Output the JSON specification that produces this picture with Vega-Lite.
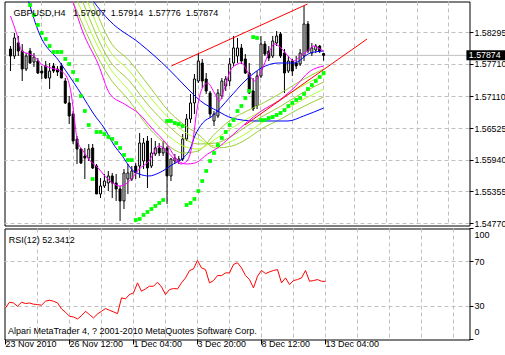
{
"$schema": "https://vega.github.io/schema/vega-lite/v6.json",
"background": "#ffffff",
"padding": {"left": 2.5, "top": 0.5, "right": 0, "bottom": 0},
"spacing": 3,
"bounds": "flush",
"vconcat": [
{
"width": 465, "height": 224,
"layer": [
{"data": {"values": [{"p": 1.57874}]},
 "mark": {"type": "rule", "color": "#c0c0c0", "strokeWidth": 1},
 "encoding": {"y": {"field": "p", "type": "quantitative", "scale": {"domain": [1.54737, 1.58867], "nice": false, "zero": false}}}},
{"data": {"values": [
{"i":0,"o":1.57991,"h":1.58046,"l":1.57585,"c":1.57862},
{"i":1,"o":1.57862,"h":1.58286,"l":1.57807,"c":1.58194},
{"i":2,"o":1.58102,"h":1.58231,"l":1.57862,"c":1.57954},
{"i":3,"o":1.57954,"h":1.58083,"l":1.57401,"c":1.57622},
{"i":4,"o":1.57622,"h":1.57917,"l":1.57585,"c":1.57862},
{"i":5,"o":1.57954,"h":1.58010,"l":1.57715,"c":1.57733},
{"i":6,"o":1.57751,"h":1.57917,"l":1.57659,"c":1.57844},
{"i":7,"o":1.57770,"h":1.57825,"l":1.57530,"c":1.57549},
{"i":8,"o":1.57585,"h":1.57678,"l":1.57438,"c":1.57549},
{"i":9,"o":1.57678,"h":1.57770,"l":1.57438,"c":1.57456},
{"i":10,"o":1.57456,"h":1.57733,"l":1.57254,"c":1.57585},
{"i":11,"o":1.57678,"h":1.57733,"l":1.57549,"c":1.57585},
{"i":12,"o":1.57622,"h":1.57678,"l":1.57493,"c":1.57567},
{"i":13,"o":1.57678,"h":1.57733,"l":1.57456,"c":1.57456},
{"i":14,"o":1.57401,"h":1.57456,"l":1.56977,"c":1.56996},
{"i":15,"o":1.56996,"h":1.57125,"l":1.56608,"c":1.56756},
{"i":16,"o":1.56793,"h":1.56848,"l":1.56240,"c":1.56295},
{"i":17,"o":1.56332,"h":1.56387,"l":1.55871,"c":1.56147},
{"i":18,"o":1.56147,"h":1.56166,"l":1.55871,"c":1.55889},
{"i":19,"o":1.56018,"h":1.56166,"l":1.55594,"c":1.55981},
{"i":20,"o":1.55981,"h":1.56240,"l":1.55926,"c":1.56147},
{"i":21,"o":1.56166,"h":1.56240,"l":1.55779,"c":1.55797},
{"i":22,"o":1.55834,"h":1.55871,"l":1.55318,"c":1.55318},
{"i":23,"o":1.55318,"h":1.55613,"l":1.55244,"c":1.55465},
{"i":24,"o":1.55465,"h":1.55686,"l":1.55428,"c":1.55557},
{"i":25,"o":1.55521,"h":1.55742,"l":1.55373,"c":1.55650},
{"i":26,"o":1.55650,"h":1.55705,"l":1.55244,"c":1.55521},
{"i":27,"o":1.55521,"h":1.55686,"l":1.55189,"c":1.55410},
{"i":28,"o":1.55410,"h":1.55465,"l":1.54820,"c":1.55189},
{"i":29,"o":1.55189,"h":1.55779,"l":1.55041,"c":1.55705},
{"i":30,"o":1.55594,"h":1.55871,"l":1.55318,"c":1.55705},
{"i":31,"o":1.55594,"h":1.55834,"l":1.55557,"c":1.55742},
{"i":32,"o":1.55834,"h":1.55889,"l":1.55594,"c":1.55705},
{"i":33,"o":1.55834,"h":1.56442,"l":1.55613,"c":1.56258},
{"i":34,"o":1.55926,"h":1.56350,"l":1.55779,"c":1.56258},
{"i":35,"o":1.56295,"h":1.56387,"l":1.55428,"c":1.55797},
{"i":36,"o":1.55834,"h":1.56350,"l":1.55797,"c":1.56074},
{"i":37,"o":1.56055,"h":1.56295,"l":1.56018,"c":1.56166},
{"i":38,"o":1.56166,"h":1.56258,"l":1.56018,"c":1.56074},
{"i":39,"o":1.56074,"h":1.56295,"l":1.56018,"c":1.56166},
{"i":40,"o":1.56166,"h":1.56203,"l":1.55134,"c":1.55650},
{"i":41,"o":1.55650,"h":1.55981,"l":1.55557,"c":1.55963},
{"i":42,"o":1.55926,"h":1.56055,"l":1.55871,"c":1.55981},
{"i":43,"o":1.55926,"h":1.56018,"l":1.55871,"c":1.55963},
{"i":44,"o":1.55963,"h":1.56424,"l":1.55926,"c":1.56332},
{"i":45,"o":1.56332,"h":1.56793,"l":1.56295,"c":1.56701},
{"i":46,"o":1.56701,"h":1.57162,"l":1.56627,"c":1.56996},
{"i":47,"o":1.56996,"h":1.57530,"l":1.56793,"c":1.57438},
{"i":48,"o":1.57401,"h":1.57917,"l":1.57364,"c":1.57770},
{"i":49,"o":1.57733,"h":1.57807,"l":1.57272,"c":1.57401},
{"i":50,"o":1.57438,"h":1.57549,"l":1.57162,"c":1.57217},
{"i":51,"o":1.57180,"h":1.57217,"l":1.56719,"c":1.56793},
{"i":52,"o":1.56664,"h":1.56848,"l":1.56571,"c":1.56793},
{"i":53,"o":1.56756,"h":1.57254,"l":1.56719,"c":1.57180},
{"i":54,"o":1.57125,"h":1.57456,"l":1.57069,"c":1.57401},
{"i":55,"o":1.57309,"h":1.57493,"l":1.57217,"c":1.57438},
{"i":56,"o":1.57401,"h":1.57825,"l":1.57309,"c":1.57715},
{"i":57,"o":1.57733,"h":1.58231,"l":1.57678,"c":1.58010},
{"i":58,"o":1.57862,"h":1.58194,"l":1.57733,"c":1.58010},
{"i":59,"o":1.58010,"h":1.58083,"l":1.57715,"c":1.57770},
{"i":60,"o":1.57807,"h":1.57899,"l":1.57530,"c":1.57549},
{"i":61,"o":1.57549,"h":1.57733,"l":1.57162,"c":1.57180},
{"i":62,"o":1.57217,"h":1.57456,"l":1.56848,"c":1.56885},
{"i":63,"o":1.56940,"h":1.57585,"l":1.56885,"c":1.57493},
{"i":64,"o":1.57493,"h":1.58231,"l":1.57456,"c":1.58083},
{"i":65,"o":1.58083,"h":1.58139,"l":1.57862,"c":1.57899},
{"i":66,"o":1.57954,"h":1.58046,"l":1.57770,"c":1.57825},
{"i":67,"o":1.57862,"h":1.58231,"l":1.57825,"c":1.58139},
{"i":68,"o":1.58102,"h":1.58323,"l":1.58046,"c":1.58231},
{"i":69,"o":1.58268,"h":1.58305,"l":1.57825,"c":1.57862},
{"i":70,"o":1.57917,"h":1.57991,"l":1.57180,"c":1.57549},
{"i":71,"o":1.57585,"h":1.57862,"l":1.57549,"c":1.57770},
{"i":72,"o":1.57770,"h":1.57807,"l":1.57493,"c":1.57585},
{"i":73,"o":1.57733,"h":1.57862,"l":1.57622,"c":1.57678},
{"i":74,"o":1.57715,"h":1.57991,"l":1.57678,"c":1.57917},
{"i":75,"o":1.57862,"h":1.58784,"l":1.57770,"c":1.58452},
{"i":76,"o":1.58452,"h":1.58507,"l":1.57917,"c":1.57954},
{"i":77,"o":1.57917,"h":1.58102,"l":1.57862,"c":1.58010},
{"i":78,"o":1.57973,"h":1.58083,"l":1.57917,"c":1.58046},
{"i":79,"o":1.58046,"h":1.58065,"l":1.57917,"c":1.57954},
{"i":80,"o":1.57907,"h":1.57914,"l":1.57776,"c":1.57874}
]},
 "layer": [
  {"mark": {"type": "rule", "color": "#000000", "strokeWidth": 1},
   "encoding": {
    "x": {"field": "i", "type": "quantitative", "scale": {"domain": [-0.25, 116], "nice": false, "zero": false},
          "axis": {"orient": "bottom", "values": [8,16,24,32,40,48,56,64,72,80,88,96,104,112], "tickCount": 100, "labels": false, "ticks": false, "domain": false, "grid": true, "title": null, "minExtent": 0, "maxExtent": 0}},
    "y": {"field": "l", "type": "quantitative", "scale": {"domain": [1.54737, 1.58867], "nice": false, "zero": false},
          "axis": {"orient": "right", "values": [1.5477, 1.55355, 1.5594, 1.56525, 1.5711, 1.5771, 1.58295], "tickCount": 100, "format": ".5f", "title": null, "tickSize": 4, "labelPadding": 1, "labelFontSize": 8.8, "grid": true, "labelOverlap": false, "labelBound": false}},
    "y2": {"field": "h"}}},
  {"mark": {"type": "bar", "size": 2, "stroke": "#000000", "strokeWidth": 1},
   "encoding": {
    "x": {"field": "i", "type": "quantitative", "scale": {"domain": [-0.25, 116], "nice": false, "zero": false}},
    "y": {"field": "o", "type": "quantitative", "scale": {"domain": [1.54737, 1.58867], "nice": false, "zero": false}},
    "y2": {"field": "c"},
    "fill": {"condition": {"test": "datum.c >= datum.o", "value": "#ffffff"}, "value": "#000000"}}}
 ]},
{"data": {"values": [
{"s":"g1","i":15.9,"p":1.58876},{"s":"g1","i":25.4,"p":1.57456},{"s":"g1","i":30.4,"p":1.57032},{"s":"g1","i":35.4,"p":1.56534},{"s":"g1","i":40.4,"p":1.56203},{"s":"g1","i":44.1,"p":1.56074},{"s":"g1","i":47.9,"p":1.56110},{"s":"g1","i":52.4,"p":1.56442},{"s":"g1","i":56.6,"p":1.56701},{"s":"g1","i":60.4,"p":1.56848},{"s":"g1","i":64.1,"p":1.56977},{"s":"g1","i":69.1,"p":1.57180},{"s":"g1","i":74.1,"p":1.57401},{"s":"g1","i":80,"p":1.57622},
{"s":"g2","i":17.1,"p":1.58876},{"s":"g2","i":25.4,"p":1.57641},{"s":"g2","i":30.4,"p":1.57217},{"s":"g2","i":35.4,"p":1.56756},{"s":"g2","i":40.4,"p":1.56387},{"s":"g2","i":44.1,"p":1.56203},{"s":"g2","i":47.9,"p":1.56147},{"s":"g2","i":52.4,"p":1.56332},{"s":"g2","i":56.6,"p":1.56534},{"s":"g2","i":60.4,"p":1.56701},{"s":"g2","i":64.1,"p":1.56848},{"s":"g2","i":69.1,"p":1.57069},{"s":"g2","i":74.1,"p":1.57291},{"s":"g2","i":80,"p":1.57512},
{"s":"g3","i":18.4,"p":1.58876},{"s":"g3","i":25.4,"p":1.57770},{"s":"g3","i":30.4,"p":1.57401},{"s":"g3","i":35.4,"p":1.56940},{"s":"g3","i":40.4,"p":1.56571},{"s":"g3","i":44.1,"p":1.56350},{"s":"g3","i":47.9,"p":1.56240},{"s":"g3","i":52.4,"p":1.56258},{"s":"g3","i":56.6,"p":1.56387},{"s":"g3","i":60.4,"p":1.56571},{"s":"g3","i":64.1,"p":1.56737},{"s":"g3","i":69.1,"p":1.56940},{"s":"g3","i":74.1,"p":1.57162},{"s":"g3","i":80,"p":1.57383},
{"s":"g4","i":19.6,"p":1.58876},{"s":"g4","i":25.4,"p":1.57954},{"s":"g4","i":30.4,"p":1.57585},{"s":"g4","i":35.4,"p":1.57125},{"s":"g4","i":40.4,"p":1.56719},{"s":"g4","i":44.1,"p":1.56479},{"s":"g4","i":47.9,"p":1.56332},{"s":"g4","i":52.4,"p":1.56203},{"s":"g4","i":56.6,"p":1.56295},{"s":"g4","i":60.4,"p":1.56442},{"s":"g4","i":64.1,"p":1.56627},{"s":"g4","i":69.1,"p":1.56830},{"s":"g4","i":74.1,"p":1.57032},{"s":"g4","i":80,"p":1.57254},
{"s":"g5","i":20.9,"p":1.58876},{"s":"g5","i":25.4,"p":1.58139},{"s":"g5","i":30.4,"p":1.57770},{"s":"g5","i":35.4,"p":1.57309},{"s":"g5","i":40.4,"p":1.56848},{"s":"g5","i":44.1,"p":1.56608},{"s":"g5","i":47.9,"p":1.56424},{"s":"g5","i":52.4,"p":1.56166},{"s":"g5","i":56.6,"p":1.56203},{"s":"g5","i":60.4,"p":1.56332},{"s":"g5","i":64.1,"p":1.56516},{"s":"g5","i":69.1,"p":1.56701},{"s":"g5","i":74.1,"p":1.56903},{"s":"g5","i":80,"p":1.57106},
{"s":"bs","i":21.1,"p":1.58876},{"s":"bs","i":25.4,"p":1.58507},{"s":"bs","i":32.9,"p":1.58102},{"s":"bs","i":40.4,"p":1.57622},{"s":"bs","i":44.6,"p":1.57309},{"s":"bs","i":48.6,"p":1.57032},{"s":"bs","i":52.9,"p":1.56848},{"s":"bs","i":56.6,"p":1.56719},{"s":"bs","i":62.4,"p":1.56664},{"s":"bs","i":70.9,"p":1.56664},{"s":"bs","i":74.9,"p":1.56756},{"s":"bs","i":80,"p":1.56903},
{"s":"bf","i":4.6,"p":1.58876},{"s":"bf","i":7.4,"p":1.58268},{"s":"bf","i":12.4,"p":1.57770},{"s":"bf","i":15.9,"p":1.57401},{"s":"bf","i":18.4,"p":1.57125},{"s":"bf","i":21.1,"p":1.56811},{"s":"bf","i":24.1,"p":1.56516},{"s":"bf","i":26.6,"p":1.56203},{"s":"bf","i":28.4,"p":1.56037},{"s":"bf","i":30.9,"p":1.55779},{"s":"bf","i":32.9,"p":1.55686},{"s":"bf","i":35.4,"p":1.55650},{"s":"bf","i":37.9,"p":1.55705},{"s":"bf","i":41.6,"p":1.55871},{"s":"bf","i":44.1,"p":1.55981},{"s":"bf","i":45.9,"p":1.56147},{"s":"bf","i":47.1,"p":1.56387},{"s":"bf","i":49.1,"p":1.56627},{"s":"bf","i":51.6,"p":1.56756},{"s":"bf","i":55.9,"p":1.57088},{"s":"bf","i":59.9,"p":1.57401},{"s":"bf","i":64.1,"p":1.57641},{"s":"bf","i":68.4,"p":1.57733},{"s":"bf","i":72.4,"p":1.57733},{"s":"bf","i":76.6,"p":1.57917},{"s":"bf","i":80,"p":1.57954},
{"s":"ms","i":15.9,"p":1.58876},{"s":"ms","i":18.4,"p":1.58323},{"s":"ms","i":22.4,"p":1.57715},{"s":"ms","i":25.4,"p":1.57162},{"s":"ms","i":29.1,"p":1.56977},{"s":"ms","i":32.9,"p":1.56793},{"s":"ms","i":36.1,"p":1.56534},{"s":"ms","i":39.9,"p":1.56240},{"s":"ms","i":42.9,"p":1.55926},{"s":"ms","i":44.9,"p":1.55871},{"s":"ms","i":47.1,"p":1.55889},{"s":"ms","i":50.4,"p":1.56055},{"s":"ms","i":52.9,"p":1.56166},{"s":"ms","i":55.9,"p":1.56350},{"s":"ms","i":59.9,"p":1.56608},{"s":"ms","i":64.1,"p":1.56848},{"s":"ms","i":68.4,"p":1.57032},{"s":"ms","i":72.4,"p":1.57272},{"s":"ms","i":76.6,"p":1.57585},{"s":"ms","i":80,"p":1.57678},
{"s":"mf","i":0,"p":1.58599},{"s":"mf","i":1.6,"p":1.58268},{"s":"mf","i":2.9,"p":1.57954},{"s":"mf","i":4.1,"p":1.57917},{"s":"mf","i":5.9,"p":1.57862},{"s":"mf","i":7.9,"p":1.57715},{"s":"mf","i":10.4,"p":1.57641},{"s":"mf","i":12.9,"p":1.57585},{"s":"mf","i":14.6,"p":1.57438},{"s":"mf","i":15.6,"p":1.57125},{"s":"mf","i":16.4,"p":1.56664},{"s":"mf","i":17.1,"p":1.56295},{"s":"mf","i":18.6,"p":1.56110},{"s":"mf","i":20.4,"p":1.55926},{"s":"mf","i":22.4,"p":1.55797},{"s":"mf","i":24.1,"p":1.55650},{"s":"mf","i":26.1,"p":1.55521},{"s":"mf","i":27.9,"p":1.55465},{"s":"mf","i":30.4,"p":1.55557},{"s":"mf","i":32.9,"p":1.55779},{"s":"mf","i":35.4,"p":1.55926},{"s":"mf","i":37.9,"p":1.56203},{"s":"mf","i":39.9,"p":1.56110},{"s":"mf","i":41.6,"p":1.55981},{"s":"mf","i":43.6,"p":1.55871},{"s":"mf","i":45.1,"p":1.55926},{"s":"mf","i":46.6,"p":1.56295},{"s":"mf","i":47.6,"p":1.56848},{"s":"mf","i":48.9,"p":1.57254},{"s":"mf","i":50.4,"p":1.57364},{"s":"mf","i":52.1,"p":1.57180},{"s":"mf","i":53.4,"p":1.57032},{"s":"mf","i":54.6,"p":1.57254},{"s":"mf","i":56.6,"p":1.57641},{"s":"mf","i":59.1,"p":1.57733},{"s":"mf","i":60.9,"p":1.57530},{"s":"mf","i":62.4,"p":1.57401},{"s":"mf","i":64.1,"p":1.57585},{"s":"mf","i":65.9,"p":1.57899},{"s":"mf","i":67.4,"p":1.58083},{"s":"mf","i":69.1,"p":1.58010},{"s":"mf","i":70.9,"p":1.57862},{"s":"mf","i":72.4,"p":1.57770},{"s":"mf","i":74.1,"p":1.57862},{"s":"mf","i":75.9,"p":1.57954},{"s":"mf","i":77.4,"p":1.58046},{"s":"mf","i":79.1,"p":1.57991},{"s":"mf","i":80,"p":1.57954}
]},
 "mark": {"type": "line", "strokeWidth": 1, "clip": true, "interpolate": "monotone"},
 "encoding": {
  "x": {"field": "i", "type": "quantitative", "scale": {"domain": [-0.25, 116], "nice": false, "zero": false}},
  "y": {"field": "p", "type": "quantitative", "scale": {"domain": [1.54737, 1.58867], "nice": false, "zero": false}},
  "color": {"field": "s", "type": "nominal", "scale": {"domain": ["g1","g2","g3","g4","g5","bs","bf","ms","mf"], "range": ["#9acd32","#adff2f","#9acd32","#adff2f","#9acd32","#0000ff","#0000ff","#ff00ff","#ff00ff"]}, "legend": null}}},
{"data": {"values": [
{"i":5,"p":1.58802},{"i":6,"p":1.58618},{"i":7,"p":1.58434},{"i":8,"p":1.58286},{"i":9,"p":1.58175},{"i":10,"p":1.58046},{"i":11,"p":1.57936},{"i":12,"p":1.57936},{"i":13,"p":1.57936},{"i":14,"p":1.57807},{"i":15,"p":1.57715},{"i":16,"p":1.57567},{"i":17,"p":1.57420},{"i":18,"p":1.57125},{"i":19,"p":1.56848},{"i":20,"p":1.56590},{"i":21,"p":1.55594},{"i":22,"p":1.56461},{"i":23,"p":1.56461},{"i":24,"p":1.56424},{"i":25,"p":1.56369},{"i":26,"p":1.56332},{"i":27,"p":1.56258},{"i":28,"p":1.56166},{"i":29,"p":1.56037},{"i":30,"p":1.55944},{"i":31,"p":1.55944},{"i":32,"p":1.54838},{"i":33,"p":1.54857},{"i":34,"p":1.54931},{"i":35,"p":1.54986},{"i":36,"p":1.55041},{"i":37,"p":1.55097},{"i":38,"p":1.55152},{"i":39,"p":1.55207},{"i":40,"p":1.56664},{"i":41,"p":1.56664},{"i":42,"p":1.56627},{"i":43,"p":1.56608},{"i":44,"p":1.56571},{"i":45,"p":1.55115},{"i":46,"p":1.55152},{"i":47,"p":1.55226},{"i":48,"p":1.55373},{"i":49,"p":1.55557},{"i":50,"p":1.55742},{"i":51,"p":1.55926},{"i":52,"p":1.56074},{"i":53,"p":1.56221},{"i":54,"p":1.56350},{"i":55,"p":1.56461},{"i":56,"p":1.56590},{"i":57,"p":1.56682},{"i":58,"p":1.56848},{"i":59,"p":1.56940},{"i":60,"p":1.57088},{"i":61,"p":1.57217},{"i":62,"p":1.58212},{"i":63,"p":1.58194},{"i":64,"p":1.56682},{"i":65,"p":1.56682},{"i":66,"p":1.56719},{"i":67,"p":1.56737},{"i":68,"p":1.56774},{"i":69,"p":1.56811},{"i":70,"p":1.56866},{"i":71,"p":1.56940},{"i":72,"p":1.56996},{"i":73,"p":1.57051},{"i":74,"p":1.57088},{"i":75,"p":1.57162},{"i":76,"p":1.57254},{"i":77,"p":1.57327},{"i":78,"p":1.57401},{"i":79,"p":1.57475},{"i":80,"p":1.57549}
]},
 "mark": {"type": "point", "shape": "square", "filled": true, "size": 14, "color": "#00ff00", "opacity": 1},
 "encoding": {
  "x": {"field": "i", "type": "quantitative", "scale": {"domain": [-0.25, 116], "nice": false, "zero": false}},
  "y": {"field": "p", "type": "quantitative", "scale": {"domain": [1.54737, 1.58867], "nice": false, "zero": false}}}},
{"data": {"values": [
{"t":"up","i":41.1,"p":1.57678},{"t":"up","i":75.9,"p":1.58821},
{"t":"lo","i":59.9,"p":1.56590},{"t":"lo","i":91.1,"p":1.58175}
]},
 "mark": {"type": "line", "color": "#ff0000", "strokeWidth": 1, "clip": true},
 "encoding": {
  "x": {"field": "i", "type": "quantitative", "scale": {"domain": [-0.25, 116], "nice": false, "zero": false}},
  "y": {"field": "p", "type": "quantitative", "scale": {"domain": [1.54737, 1.58867], "nice": false, "zero": false}},
  "detail": {"field": "t", "type": "nominal"}}},
{"data": {"values": [{"t": "GBPUSD,H4\u00a0\u00a0\u00a01.57907\u00a0\u00a01.57914\u00a0\u00a01.57776\u00a0\u00a01.57874"}]},
 "mark": {"type": "text", "align": "left", "baseline": "alphabetic", "font": "Liberation Sans", "fontSize": 9, "color": "#000000"},
 "encoding": {
  "x": {"datum": 0.8, "type": "quantitative", "scale": {"domain": [-0.25, 116], "nice": false, "zero": false}},
  "y": {"datum": 1.586, "type": "quantitative", "scale": {"domain": [1.54737, 1.58867], "nice": false, "zero": false}},
  "text": {"field": "t"}}},
{"data": {"values": [{"p": 1.57874, "t": "1.57874"}]},
 "layer": [
  {"mark": {"type": "tick", "orient": "horizontal", "size": 40, "thickness": 10, "color": "#000000", "opacity": 1},
   "encoding": {
    "x": {"datum": 121.6, "type": "quantitative", "scale": {"domain": [-0.25, 116], "nice": false, "zero": false}},
    "y": {"field": "p", "type": "quantitative", "scale": {"domain": [1.54737, 1.58867], "nice": false, "zero": false}}}},
  {"mark": {"type": "text", "align": "left", "baseline": "middle", "font": "Liberation Sans", "fontSize": 8.8, "color": "#ffffff"},
   "encoding": {
    "x": {"datum": 117.1, "type": "quantitative", "scale": {"domain": [-0.25, 116], "nice": false, "zero": false}},
    "y": {"field": "p", "type": "quantitative", "scale": {"domain": [1.54737, 1.58867], "nice": false, "zero": false}},
    "text": {"field": "t"}}}
 ]}
]
},
{
"width": 465, "height": 111,
"layer": [
{"data": {"values": [
{"i":0,"v":28.5},{"i":1,"v":33.6},{"i":2,"v":32.9},{"i":3,"v":29.9},{"i":4,"v":33.6},{"i":5,"v":32.4},{"i":6,"v":32.9},{"i":7,"v":31.8},{"i":8,"v":31.5},{"i":9,"v":30.9},{"i":10,"v":34.5},{"i":11,"v":35.4},{"i":12,"v":34.5},{"i":13,"v":33.0},{"i":14,"v":27.6},{"i":15,"v":24.6},{"i":16,"v":20.9},{"i":17,"v":20.3},{"i":18,"v":18.5},{"i":19,"v":21.5},{"i":20,"v":25.4},{"i":21,"v":22.4},{"i":22,"v":19.4},{"i":23,"v":23.0},{"i":24,"v":25.4},{"i":25,"v":27.9},{"i":26,"v":26.3},{"i":27,"v":24.9},{"i":28,"v":23.3},{"i":29,"v":37.5},{"i":30,"v":36.6},{"i":31,"v":40.5},{"i":32,"v":42.0},{"i":33,"v":51.0},{"i":34,"v":43.5},{"i":35,"v":45.6},{"i":36,"v":48.0},{"i":37,"v":48.0},{"i":38,"v":51.6},{"i":39,"v":47.4},{"i":40,"v":40.5},{"i":41,"v":45.0},{"i":42,"v":45.9},{"i":43,"v":45.6},{"i":44,"v":51.0},{"i":45,"v":55.5},{"i":46,"v":62.1},{"i":47,"v":63.6},{"i":48,"v":71.2},{"i":49,"v":64.5},{"i":50,"v":63.0},{"i":51,"v":51.0},{"i":52,"v":53.1},{"i":53,"v":57.6},{"i":54,"v":57.6},{"i":55,"v":60.0},{"i":56,"v":60.0},{"i":57,"v":67.6},{"i":58,"v":69.1},{"i":59,"v":64.5},{"i":60,"v":57.6},{"i":61,"v":54.0},{"i":62,"v":46.5},{"i":63,"v":57.0},{"i":64,"v":62.2},{"i":65,"v":59.4},{"i":66,"v":60.9},{"i":67,"v":62.2},{"i":68,"v":63.0},{"i":69,"v":51.0},{"i":70,"v":55.5},{"i":71,"v":49.5},{"i":72,"v":53.1},{"i":73,"v":54.0},{"i":74,"v":55.5},{"i":75,"v":62.2},{"i":76,"v":52.5},{"i":77,"v":53.1},{"i":78,"v":54.0},{"i":79,"v":52.5},{"i":80,"v":52.34}
]},
 "mark": {"type": "line", "color": "#ff0000", "strokeWidth": 1},
 "encoding": {
  "x": {"field": "i", "type": "quantitative", "scale": {"domain": [-0.25, 116], "nice": false, "zero": false},
        "axis": {"orient": "bottom", "values": [0,8,16,24,32,40,48,56,64,72,80,88,96,104,112], "tickCount": 100, "title": null, "grid": true,
                 "gridOpacity": {"condition": {"test": "datum.value > 0", "value": 1}, "value": 0},
                 "tickSize": 5, "tickOpacity": {"condition": {"test": "datum.value % 16 == 0 && datum.value <= 80", "value": 1}, "value": 0},
                 "labelExpr": "datum.value == 0 ? '23 Nov 2010' : datum.value == 16 ? '26 Nov 12:00' : datum.value == 32 ? '1 Dec 04:00' : datum.value == 48 ? '3 Dec 20:00' : datum.value == 64 ? '8 Dec 12:00' : datum.value == 80 ? '13 Dec 04:00' : ''",
                 "labelAlign": "left", "labelBaseline": "top", "labelPadding": -5, "labelOverlap": false, "labelBound": false, "labelFlush": false}},
  "y": {"field": "v", "type": "quantitative", "scale": {"domain": [0, 100], "nice": false, "zero": false},
        "axis": {"orient": "right", "values": [0, 30, 70, 100], "tickCount": 100, "title": null, "tickSize": 4, "labelPadding": 1, "grid": true,
                 "gridOpacity": {"condition": {"test": "datum.value == 30 || datum.value == 70", "value": 1}, "value": 0},
                 "labelFlush": true, "labelFlushOffset": -2.5, "labelOverlap": false}}}},
{"data": {"values": [{"t": "RSI(12) 52.3412"}]},
 "mark": {"type": "text", "align": "left", "baseline": "alphabetic", "font": "Liberation Sans", "fontSize": 9, "color": "#000000"},
 "encoding": {
  "x": {"datum": 0.8, "type": "quantitative", "scale": {"domain": [-0.25, 116], "nice": false, "zero": false}},
  "y": {"datum": 87.2, "type": "quantitative", "scale": {"domain": [0, 100], "nice": false, "zero": false}},
  "text": {"field": "t"}}},
{"data": {"values": [{"t": "Alpari MetaTrader 4, ? 2001-2010 MetaQuotes Software Corp."}]},
 "mark": {"type": "text", "align": "left", "baseline": "alphabetic", "font": "Liberation Sans", "fontSize": 9, "color": "#000000"},
 "encoding": {
  "x": {"datum": 0.6, "type": "quantitative", "scale": {"domain": [-0.25, 116], "nice": false, "zero": false}},
  "y": {"datum": 5.4, "type": "quantitative", "scale": {"domain": [0, 100], "nice": false, "zero": false}},
  "text": {"field": "t"}}}
]
}
],
"config": {
 "view": {"stroke": "#000000", "strokeWidth": 1, "fill": "#ffffff"},
 "axis": {"domain": false, "gridColor": "#c0c0c0", "gridDash": [4, 3], "gridWidth": 1, "labelFont": "Liberation Sans", "labelFontSize": 9, "labelColor": "#000000", "tickColor": "#000000", "tickWidth": 1, "translate": 0, "labelOverlap": false},
 "text": {"font": "Liberation Sans", "fontSize": 9}
}
}
